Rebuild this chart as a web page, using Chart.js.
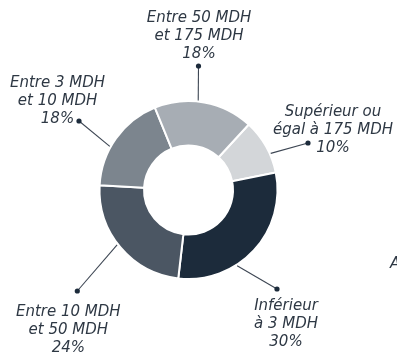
<!DOCTYPE html>
<html>
<head>
<meta charset="utf-8">
<script src="https://cdn.jsdelivr.net/npm/chart.js@4/dist/chart.umd.min.js"></script>
<style>
html,body{margin:0;padding:0;background:#fff;}
#wrap{width:397px;height:358px;position:relative;}
</style>
</head>
<body>
<div id="wrap"><canvas id="c" width="397" height="358"></canvas></div>
<script>
// Data
const categories = [
  ["Supérieur ou", "égal à 175 MDH"],
  ["Inférieur", "à 3 MDH"],
  ["Entre 10 MDH", "et 50 MDH"],
  ["Entre 3 MDH", "et 10 MDH"],
  ["Entre 50 MDH", "et 175 MDH"]
];
const shares = [10, 30, 24, 18, 18];
const sliceColors = ["#d3d6d9", "#1c2b3b", "#4b5663", "#7c858e", "#a7adb4"];

// Label layout (annotation placement, relative to doughnut centre)
const leaderAngles = [66, 147.3, 232.5, 299, 6.2];           // degrees clockwise from top
const dotOffsets   = [[119.5,-47],[88.5,99],[-111.2,101],[-109.5,-69],[10,-124]];
const textAnchors  = [[144.5,-74],[97.5,120],[-120.2,126],[-131,-102.7],[10.5,-168.3]];
const lineGap = 18;

const labelPlugin = {
  id: 'leaderLabels',
  afterDraw(chart) {
    const ctx = chart.ctx;
    const meta = chart.getDatasetMeta(0);
    const arc0 = meta.data[0];
    const cx = arc0.x, cy = arc0.y, R = arc0.outerRadius;
    ctx.save();
    ctx.font = "italic 15px 'DejaVu Sans'";
    ctx.textAlign = 'center';
    ctx.textBaseline = 'alphabetic';
    shares.forEach((v, i) => {
      const a = leaderAngles[i] * Math.PI / 180;
      const sx = cx + Math.sin(a) * (R + 1);
      const sy = cy - Math.cos(a) * (R + 1);
      const dx = cx + dotOffsets[i][0], dy = cy + dotOffsets[i][1];
      ctx.strokeStyle = '#3d4653';
      ctx.lineWidth = 1.1;
      ctx.beginPath(); ctx.moveTo(sx, sy); ctx.lineTo(dx, dy); ctx.stroke();
      ctx.fillStyle = '#1c2b3b';
      ctx.beginPath(); ctx.arc(dx, dy, 2.6, 0, Math.PI*2); ctx.fill();
      const lines = categories[i].concat([v + '%']);
      ctx.fillStyle = '#2e3844';
      lines.forEach((t, k) => {
        ctx.fillText(t, cx + textAnchors[i][0], cy + textAnchors[i][1] + k*lineGap);
      });
    });
    ctx.textAlign = 'left';
    ctx.fillStyle = '#2e3844';
    ctx.fillText('A', chart.width - 7, cy + 78);
    ctx.restore();
  }
};

new Chart(document.getElementById('c'), {
  type: 'doughnut',
  data: {
    labels: categories.map(c => c.join(' ')),
    datasets: [{
      data: shares,
      backgroundColor: sliceColors,
      borderColor: '#ffffff',
      borderWidth: 2
    }]
  },
  options: {
    responsive: false,
    animation: false,
    rotation: 42.6,
    radius: 89,
    cutout: '50%',
    layout: { padding: { left: 0, right: 20, top: 22, bottom: 0 } },
    plugins: { legend: { display: false }, tooltip: { enabled: false } }
  },
  plugins: [labelPlugin]
});
</script>
</body>
</html>
